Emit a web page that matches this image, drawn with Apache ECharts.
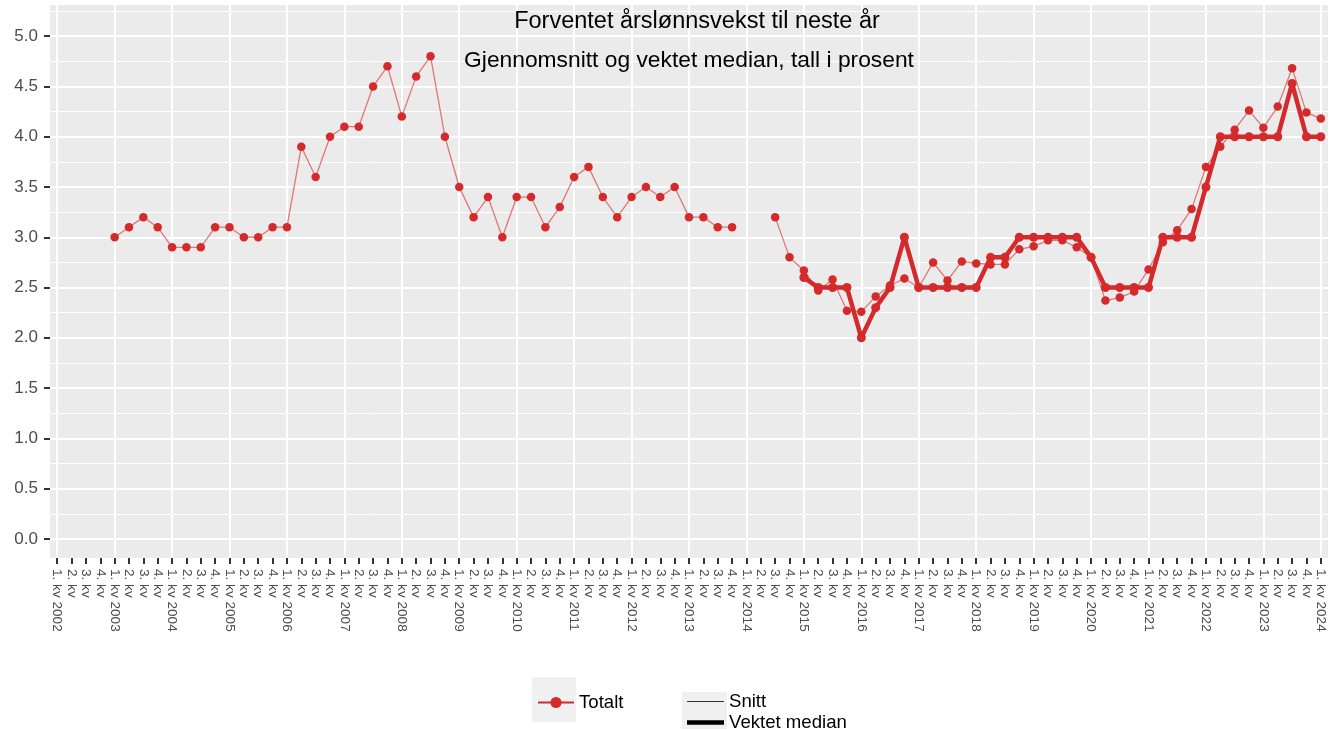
<!DOCTYPE html>
<html>
<head>
<meta charset="utf-8">
<script src="https://cdn.jsdelivr.net/npm/echarts@6/dist/echarts.min.js"></script>
<style>
html,body{margin:0;padding:0;background:#fff;}
#c{width:1336px;height:729px;}
</style>
</head>
<body>
<div id="c"></div>
<script>
// ---- data ----
const years = [2002,2003,2004,2005,2006,2007,2008,2009,2010,2011,2012,2013,2014,2015,2016,2017,2018,2019,2020,2021,2022,2023,2024];
const quarterNames = ['1. kv','2. kv','3. kv','4. kv'];
const lastYearQuarters = 1;

// Snitt (gjennomsnitt), 1. kv 2002 .. 1. kv 2024
const snitt = [
  null, null, null, null,          // 2002
  3.0, 3.1, 3.2, 3.1,              // 2003
  2.9, 2.9, 2.9, 3.1,              // 2004
  3.1, 3.0, 3.0, 3.1,              // 2005
  3.1, 3.9, 3.6, 4.0,              // 2006
  4.1, 4.1, 4.5, 4.7,              // 2007
  4.2, 4.6, 4.8, 4.0,              // 2008
  3.5, 3.2, 3.4, 3.0,              // 2009
  3.4, 3.4, 3.1, 3.3,              // 2010
  3.6, 3.7, 3.4, 3.2,              // 2011
  3.4, 3.5, 3.4, 3.5,              // 2012
  3.2, 3.2, 3.1, 3.1,              // 2013
  null, null, 3.2, 2.8,            // 2014
  2.67, 2.47, 2.58, 2.27,          // 2015
  2.26, 2.41, 2.52, 2.59,          // 2016
  2.5, 2.75, 2.57, 2.76,           // 2017
  2.74, 2.73, 2.73, 2.88,          // 2018
  2.91, 2.97, 2.97, 2.90,          // 2019
  2.8, 2.37, 2.40, 2.46,           // 2020
  2.68, 2.95, 3.07, 3.28,          // 2021
  3.70, 3.90, 4.07, 4.26,          // 2022
  4.09, 4.30, 4.68, 4.24,          // 2023
  4.18                             // 2024
];

// Vektet median
const median = [
  null, null, null, null,          // 2002
  null, null, null, null,          // 2003
  null, null, null, null,          // 2004
  null, null, null, null,          // 2005
  null, null, null, null,          // 2006
  null, null, null, null,          // 2007
  null, null, null, null,          // 2008
  null, null, null, null,          // 2009
  null, null, null, null,          // 2010
  null, null, null, null,          // 2011
  null, null, null, null,          // 2012
  null, null, null, null,          // 2013
  null, null, null, null,          // 2014
  2.6, 2.5, 2.5, 2.5,              // 2015
  2.0, 2.3, 2.5, 3.0,              // 2016
  2.5, 2.5, 2.5, 2.5,              // 2017
  2.5, 2.8, 2.8, 3.0,              // 2018
  3.0, 3.0, 3.0, 3.0,              // 2019
  2.8, 2.5, 2.5, 2.5,              // 2020
  2.5, 3.0, 3.0, 3.0,              // 2021
  3.5, 4.0, 4.0, 4.0,              // 2022
  4.0, 4.0, 4.53, 4.0,             // 2023
  4.0                              // 2024
];

const minorGridValues = [0.25, 0.75, 1.25, 1.75, 2.25, 2.75, 3.25, 3.75, 4.25, 4.75, 5.25];

const titleLine1 = 'Forventet årslønnsvekst til neste år';
const titleLine2 = 'Gjennomsnitt og vektet median, tall i prosent';

// ---- build categories ----
const categories = [];
years.forEach(function (y, yi) {
  const nq = (yi === years.length - 1) ? lastYearQuarters : 4;
  for (let q = 0; q < nq; q++) {
    categories.push(q === 0 ? quarterNames[q] + ' ' + y : quarterNames[q]);
  }
});

const RED = '#d42a2b';
const FONT = '"Liberation Sans", Arial, Helvetica, sans-serif';

const chart = echarts.init(document.getElementById('c'), null, {renderer: 'canvas'});

chart.setOption({
  animation: false,
  backgroundColor: '#ffffff',
  textStyle: {fontFamily: FONT},
  grid: {
    left: 50, right: 8, top: 5, bottom: 171,
    show: true, backgroundColor: '#ebebeb', borderWidth: 0
  },
  xAxis: {
    type: 'category',
    data: categories,
    boundaryGap: true,
    axisLine: {show: false, onZero: false},
    axisTick: {show: true, alignWithLabel: true, interval: 0, length: 6, lineStyle: {color: '#333', width: 2}},
    axisLabel: {interval: 0, rotate: -90, fontSize: 13.6, color: '#4d4d4d', margin: 11, fontFamily: FONT},
    splitLine: {show: true, interval: 3, alignWithLabel: true, lineStyle: {color: '#ffffff', width: 2}}
  },
  yAxis: {
    type: 'value',
    min: -0.19,
    max: 5.31,
    splitNumber: 11,
    axisLine: {show: false},
    axisTick: {show: true, length: 6, lineStyle: {color: '#333', width: 2}},
    axisLabel: {
      fontSize: 17, color: '#4d4d4d', margin: 12, fontFamily: FONT,
      showMinLabel: false, showMaxLabel: false,
      formatter: function (v) {
        return Math.abs(v * 2 - Math.round(v * 2)) < 1e-6 ? v.toFixed(1) : '';
      }
    },
    splitLine: {show: true, showMinLine: false, showMaxLine: false, lineStyle: {color: '#ffffff', width: 2}}
  },
  legend: [
    {
      data: ['Totalt'],
      left: 537, top: 693,
      padding: 0,
      itemWidth: 36, itemHeight: 14,
      selectedMode: false,
      textStyle: {fontSize: 18.6, color: '#000', fontFamily: FONT}
    },
    {
      orient: 'vertical',
      left: 687, top: 692,
      padding: 0,
      width: 200,
      height: 80,
      itemWidth: 37, itemHeight: 16, itemGap: 2,
      selectedMode: false,
      data: [
        {name: 'Snitt', icon: 'path://M0 0H36V1.2H0Z', itemStyle: {color: '#333333'}},
        {name: 'Vektet median', icon: 'path://M0 0H36V4.5H0Z', itemStyle: {color: '#000000'}}
      ],
      textStyle: {fontSize: 18.6, lineHeight: 18, color: '#000', fontFamily: FONT}
    }
  ],
  graphic: [
    {type: 'rect', shape: {x: 532, y: 677, width: 44, height: 45}, style: {fill: '#f0f0f0'}, z: 0},
    {type: 'rect', shape: {x: 682, y: 692, width: 45, height: 37}, style: {fill: '#f0f0f0'}, z: 0},
    {type: 'text', x: 697, y: 22, z: 100,
     style: {text: titleLine1, fill: '#000', font: '23.5px ' + FONT, align: 'center', verticalAlign: 'middle'}},
    {type: 'text', x: 689, y: 61, z: 100,
     style: {text: titleLine2, fill: '#000', font: '22.8px ' + FONT, align: 'center', verticalAlign: 'middle'}}
  ],
  series: [
    {
      name: 'minor-grid',
      type: 'line',
      data: [],
      silent: true,
      z: 1,
      markLine: {
        silent: true,
        z: 1,
        symbol: ['none', 'none'],
        label: {show: false},
        emphasis: {disabled: true},
        lineStyle: {color: '#ffffff', width: 1, type: 'solid'},
        data: minorGridValues.map(function (v) { return {yAxis: v}; })
      }
    },
    {
      name: 'Vektet median',
      type: 'line',
      data: median,
      connectNulls: false,
      symbol: 'circle',
      symbolSize: 9,
      z: 3,
      lineStyle: {color: RED, width: 4.5},
      itemStyle: {color: RED},
      emphasis: {disabled: true}
    },
    {
      name: 'Snitt',
      type: 'line',
      data: snitt,
      connectNulls: false,
      symbol: 'circle',
      symbolSize: 8.5,
      z: 4,
      lineStyle: {color: 'rgba(212,42,43,0.6)', width: 1.3},
      itemStyle: {color: RED},
      emphasis: {disabled: true}
    },
    {
      name: 'Totalt',
      type: 'line',
      data: [],
      symbol: 'circle',
      symbolSize: 10,
      lineStyle: {color: RED, width: 2.5},
      itemStyle: {color: RED}
    }
  ]
});
</script>
</body>
</html>
